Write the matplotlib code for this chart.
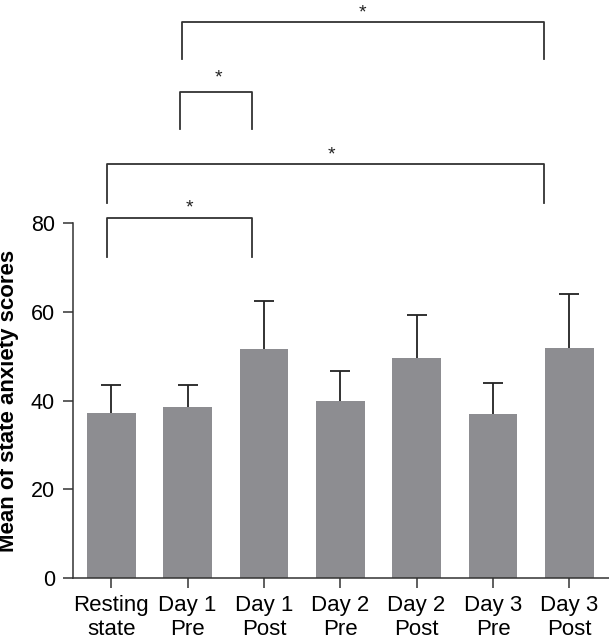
import matplotlib
matplotlib.use("Agg")
from matplotlib import pyplot as plt
import numpy as np

plt.rcParams['font.family'] = ['Liberation Sans', 'DejaVu Sans']

# data
groups = ["Resting\nstate", "Day 1\nPre", "Day 1\nPost", "Day 2\nPre",
          "Day 2\nPost", "Day 3\nPre", "Day 3\nPost"]
means = [37.1, 38.5, 51.7, 39.9, 49.6, 37.0, 51.9]
sds = [6.4, 5.1, 10.7, 6.7, 9.6, 7.0, 12.2]

# significance brackets: (x left, x right, bar height, leg bottom, star x, star y)
brackets = [(-0.06, 1.85, 81.1, 72.4, 1.02, 83.3),
            (-0.06, 5.67, 93.2, 84.6, 2.89, 95.4),
            (0.90, 1.85, 109.6, 101.3, 1.41, 112.6),
            (0.93, 5.67, 125.4, 117.0, 3.29, 127.3)]

fig = plt.figure(figsize=(6.09, 6.42), dpi=100)
ax = fig.add_axes([0.12, 0.0997, 0.88, 0.5529])

x = np.arange(len(groups))
ax.bar(x, means, width=0.64, color='#8d8d91', zorder=2)
eb = ax.errorbar(x, means, yerr=[np.zeros(len(sds)), sds], fmt='none',
                 ecolor='#222222', elinewidth=1.3, capsize=7, capthick=1.3,
                 zorder=1)
# hide the lower caps (zero length)
for cap in eb[1]:
    if np.allclose(cap.get_ydata(), means):
        cap.set_visible(False)

for x1, x2, h, low, sx, sy in brackets:
    ax.plot([x1, x1, x2, x2], [low, h, h, low], color='#333333', lw=1.3,
            clip_on=False)
    ax.text(sx, sy, '*', ha='center', va='center', fontsize=14,
            color='#222222', clip_on=False)

ax.set_xlim(-0.5, 6.52)
ax.set_ylim(0, 80)
ax.set_yticks([0, 20, 40, 60, 80])
ax.set_xticks(x)
ax.set_xticklabels(groups, fontsize=16)
ax.tick_params(axis='y', labelsize=15.5, length=7, width=1.1, pad=6,
               color='#333333')
ax.tick_params(axis='x', length=7, width=1.1, pad=5, color='#333333')
ax.spines['top'].set_visible(False)
ax.spines['right'].set_visible(False)
for s in ['left', 'bottom']:
    ax.spines[s].set_linewidth(1.1)
    ax.spines[s].set_color('#333333')
ax.set_ylabel('Mean of state anxiety scores', fontsize=16, fontweight='bold')
ax.yaxis.set_label_coords(-0.1, 0.5)

fig.savefig('out.png', dpi=100)
